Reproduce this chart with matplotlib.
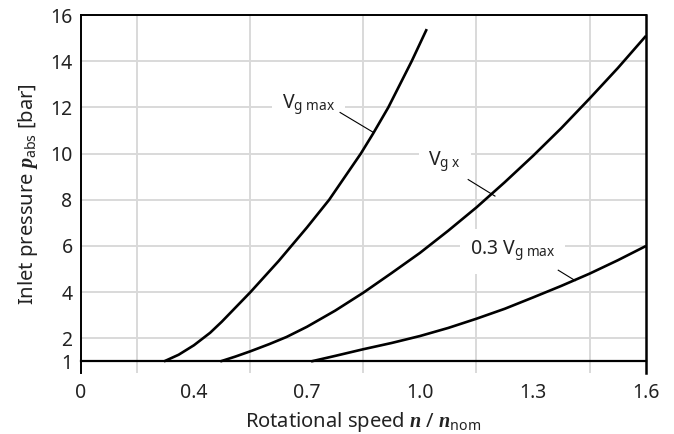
import numpy as np
import matplotlib
matplotlib.use("Agg")
import matplotlib.pyplot as plt

plt.rcParams['font.family'] = ['Noto Sans', 'DejaVu Sans']
plt.rcParams['mathtext.fontset'] = 'custom'
plt.rcParams['mathtext.rm'] = 'Noto Sans'
plt.rcParams['mathtext.it'] = 'Liberation Serif:italic:bold'

# x tick labels (axis is piecewise: equal spacing for 0-0.4 and 0.3 steps after)
x_ticks = [0, 0.4, 0.7, 1.0, 1.3, 1.6]
x_labels = ['0', '0.4', '0.7', '1.0', '1.3', '1.6']
x_grid = [0.2, 0.4, 0.55, 0.7, 0.85, 1.0, 1.15, 1.3, 1.45]
y_ticks = [1, 2, 4, 6, 8, 10, 12, 14, 16]

# Curves
vgmax_x = [0.294, 0.346, 0.40, 0.443, 0.474, 0.55, 0.625, 0.70, 0.759, 0.843, 0.875, 0.916, 0.978, 1.018]
vgmax_y = [1.0, 1.29, 1.7, 2.24, 2.72, 4.0, 5.35, 6.8, 8.0, 10.0, 10.85, 12.0, 14.0, 15.39]
vgx_x = [0.47, 0.51, 0.55, 0.60, 0.646, 0.70, 0.775, 0.85, 0.925, 1.0, 1.075, 1.15, 1.225, 1.30,
         1.375, 1.45, 1.525, 1.60]
vgx_y = [1.0, 1.21, 1.44, 1.75, 2.06, 2.5, 3.2, 3.98, 4.83, 5.7, 6.66, 7.67, 8.76, 9.9,
         11.1, 12.38, 13.7, 15.1]
v03_x = [0.711, 0.775, 0.85, 0.925, 1.00, 1.075, 1.15, 1.225, 1.30, 1.375, 1.45, 1.525, 1.60]
v03_y = [1.0, 1.24, 1.53, 1.8, 2.1, 2.45, 2.85, 3.28, 3.77, 4.27, 4.8, 5.38, 6.0]
base_x = [0, 1.6]
base_y = [1, 1]


def fwd(x):
    x = np.asarray(x, dtype=float)
    return np.where(x < 0.4, x / 0.4, 1 + (x - 0.4) / 0.3)


def inv(u):
    u = np.asarray(u, dtype=float)
    return np.where(u < 1, u * 0.4, 0.4 + (u - 1) * 0.3)


TXT = '#222222'
fig = plt.figure(figsize=(6.74, 4.34), dpi=100)
ax = fig.add_axes([0.120, 0.1406, 0.8385, 0.8248])
ax.set_xscale('function', functions=(fwd, inv))
ax.set_xlim(0, 1.6)
ax.set_ylim(0.5, 16)

ax.set_xticks(x_ticks)
ax.set_xticklabels(x_labels)
ax.set_xticks(x_grid, minor=True)
ax.xaxis.set_minor_formatter(plt.NullFormatter())
ax.set_yticks(y_ticks)
ax.tick_params(axis='both', which='both', length=0, labelsize=14, colors=TXT)
ax.tick_params(axis='x', pad=7)
ax.tick_params(axis='y', pad=6)

ax.grid(True, which='minor', axis='x', color='#d9d9d9', lw=1.4, zorder=0)
ax.grid(True, which='major', axis='y', color='#d9d9d9', lw=1.4, zorder=0)

for s in ['left', 'top', 'right']:
    ax.spines[s].set_color('black')
    ax.spines[s].set_linewidth(1.4)
ax.spines['right'].set_linewidth(1.8)
ax.spines['bottom'].set_visible(False)

ax.plot(base_x, base_y, color='black', lw=1.6, zorder=3, clip_on=False)
for xs, ys in [(vgmax_x, vgmax_y), (vgx_x, vgx_y), (v03_x, v03_y)]:
    ax.plot(xs, ys, color='black', lw=1.9, zorder=3, solid_capstyle='butt',
            solid_joinstyle='round')

bbox = dict(facecolor='white', edgecolor='none', pad=7)
ax.text(0.634, 11.9, r'V$_{\mathrm{g\ max}}$', fontsize=14, ha='left', va='baseline',
        bbox=bbox, zorder=4, color=TXT)
ax.plot([0.788, 0.875], [11.78, 10.93], color='black', lw=0.8, zorder=4)
ax.text(1.022, 9.45, r'V$_{\mathrm{g\ x}}$', fontsize=14, ha='left', va='baseline',
        bbox=bbox, zorder=4, color=TXT)
ax.plot([1.128, 1.199], [8.875, 8.16], color='black', lw=0.8, zorder=4)
ax.text(1.133, 5.6, r'0.3 V$_{\mathrm{g\ max}}$', fontsize=14, ha='left', va='baseline',
        bbox=bbox, zorder=4, color=TXT)
ax.plot([1.367, 1.412], [4.95, 4.5], color='black', lw=0.8, zorder=4)

ax.set_xlabel(r'Rotational speed $\mathit{n}$ / $\mathit{n}_{\mathrm{nom}}$', fontsize=14.5,
              color=TXT, labelpad=5)
ax.set_ylabel(r'Inlet pressure $\mathit{p}_{\mathrm{abs}}$ [bar]', fontsize=14.5,
              color=TXT, labelpad=7)

fig.savefig('out.png', dpi=100)
